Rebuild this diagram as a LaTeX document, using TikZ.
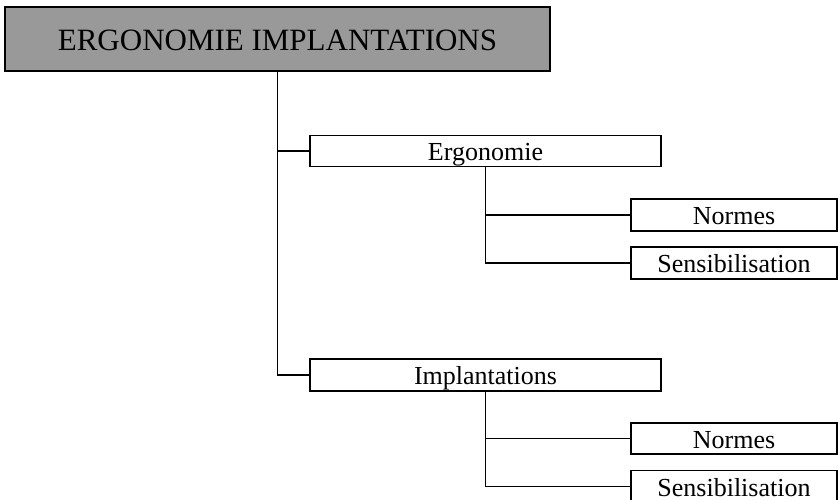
\documentclass[tikz,border=0pt]{standalone}
\usepackage{fontspec}
\setmainfont{Liberation Serif}
\definecolor{topgray}{HTML}{999999}
\tikzset{
  box/.style={draw=black, line width=1.7pt, fill=white, inner sep=0pt, text height=19pt, text depth=0pt, font=\fontsize{26}{28}\selectfont},
  topbox/.style={draw=black, line width=2.3pt, fill=topgray, inner sep=0pt, text height=23pt, text depth=0pt, font=\fontsize{31}{33}\selectfont},
  link/.style={draw=black, line width=1.7pt}
}
\begin{document}
\begin{tikzpicture}[x=1pt,y=-1pt]
\useasboundingbox (0,0) rectangle (838,499);
\node[topbox, minimum width=545pt, minimum height=64pt] (top) at (277.5,39) {ERGONOMIE IMPLANTATIONS};
\node[box, minimum width=351pt, minimum height=31pt] (ergo) at (485.5,151) {Ergonomie};
\node[box, minimum width=206pt, minimum height=32pt] (norm1) at (734,215) {Normes};
\node[box, minimum width=206pt, minimum height=32pt] (sens1) at (734,263) {Sensibilisation};
\node[box, minimum width=351pt, minimum height=32pt] (impl) at (485.5,375) {Implantations};
\node[box, minimum width=206pt, minimum height=31pt] (norm2) at (734,438.5) {Normes};
\node[box, minimum width=206pt, minimum height=32pt] (sens2) at (734,486.5) {Sensibilisation};
\coordinate (tr) at (277.5,0);
\draw[link] (tr |- top.south) |- (impl.west);
\draw[link] (tr |- ergo.west) -- (ergo.west);
\draw[link] (ergo.south) |- (sens1.west);
\draw[link] (ergo.south |- norm1.west) -- (norm1.west);
\draw[link] (impl.south) |- (sens2.west);
\draw[link] (impl.south |- norm2.west) -- (norm2.west);
\end{tikzpicture}
\end{document}
